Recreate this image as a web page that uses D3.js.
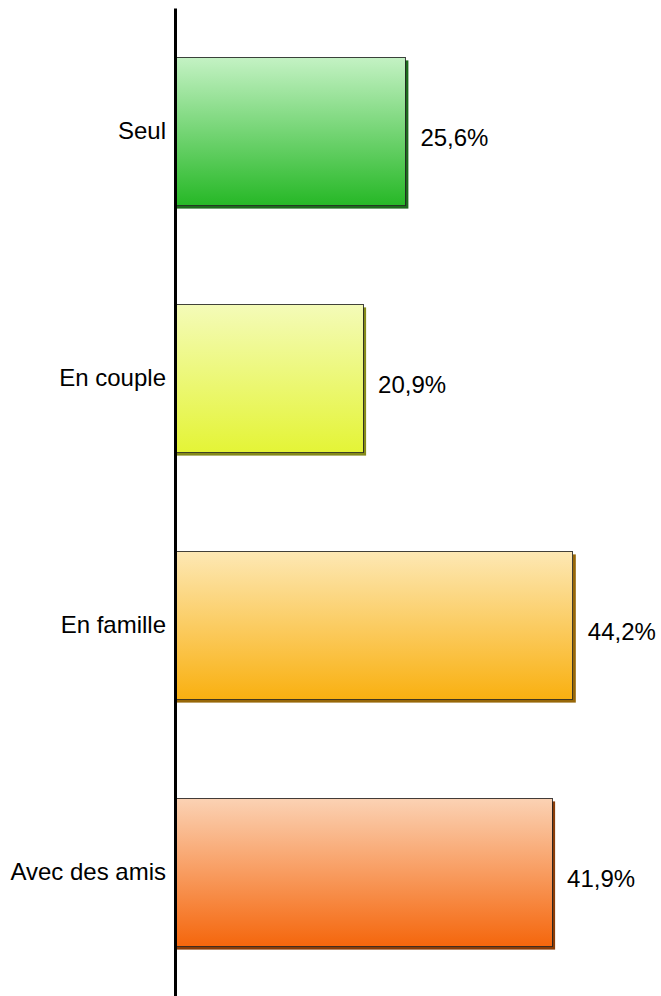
<!DOCTYPE html>
<html>
<head>
<meta charset="utf-8">
<script src="https://cdn.jsdelivr.net/npm/d3@7"></script>
<style>
  html, body { margin: 0; padding: 0; background: #fff; }
  svg { display: block; }
  text { font-family: Arial, "Liberation Sans", sans-serif; }
</style>
</head>
<body>
<svg id="chart" width="661" height="996"></svg>
<script>
// Répartition selon l'accompagnement
const categories = ["Seul", "En couple", "En famille", "Avec des amis"];
const values = [25.6, 20.9, 44.2, 41.9];
const valueLabels = ["25,6%", "20,9%", "44,2%", "41,9%"];
// top colour, bottom colour, shadow colour per bar
const topColors = ["#c4f2c4", "#f4fbb8", "#fde8b4", "#fbd2b4"];
const bottomColors = ["#26b826", "#e4f436", "#f9b010", "#f5660c"];
const shadowColors = ["#1c6a1c", "#858a1a", "#976708", "#8a3c08"];

const svg = d3.select("#chart");
const axisX = 175;

const x = d3.scaleLinear().domain([0, 50]).range([axisX, 625]);
const y = d3.scaleBand()
  .domain(categories)
  .range([8, 996])
  .paddingInner(0.4)
  .paddingOuter(0.2);

const defs = svg.append("defs");
categories.forEach((c, i) => {
  const g = defs.append("linearGradient")
    .attr("id", "grad" + i)
    .attr("x1", 0).attr("y1", 0).attr("x2", 0).attr("y2", 1);
  g.append("stop").attr("offset", "0%").attr("stop-color", topColors[i]);
  g.append("stop").attr("offset", "100%").attr("stop-color", bottomColors[i]);
});

const rows = categories.map((c, i) => ({ c, v: values[i], label: valueLabels[i], i }));

// drop shadow behind each bar
svg.append("g").selectAll("rect")
  .data(rows)
  .join("rect")
  .attr("x", x(0) + 2)
  .attr("y", d => y(d.c) + 3)
  .attr("width", d => x(d.v) - x(0) + 1)
  .attr("height", y.bandwidth())
  .attr("fill", d => shadowColors[d.i]);

// bars
svg.append("g").selectAll("rect")
  .data(rows)
  .join("rect")
  .attr("x", x(0))
  .attr("y", d => y(d.c))
  .attr("width", d => x(d.v) - x(0))
  .attr("height", y.bandwidth())
  .attr("fill", d => `url(#grad${d.i})`)
  .attr("stroke", "#222")
  .attr("stroke-opacity", 0.85)
  .attr("stroke-width", 1)
  .attr("shape-rendering", "crispEdges");

// value labels
svg.append("g").selectAll("text")
  .data(rows)
  .join("text")
  .attr("x", d => x(d.v) + 15)
  .attr("y", d => y(d.c) + y.bandwidth() / 2 + 6)
  .attr("dy", "0.35em")
  .attr("font-size", 24)
  .attr("fill", "#000")
  .text(d => d.label);

// category axis
const axis = svg.append("g")
  .attr("transform", `translate(${axisX},0)`)
  .call(d3.axisLeft(y).tickSize(0).tickSizeOuter(0).tickPadding(9));
axis.select(".domain").attr("stroke", "#000").attr("stroke-width", 3);
axis.selectAll("text")
  .attr("font-size", 24)
  .attr("font-family", "Arial, 'Liberation Sans', sans-serif")
  .attr("fill", "#000");
</script>
</body>
</html>
